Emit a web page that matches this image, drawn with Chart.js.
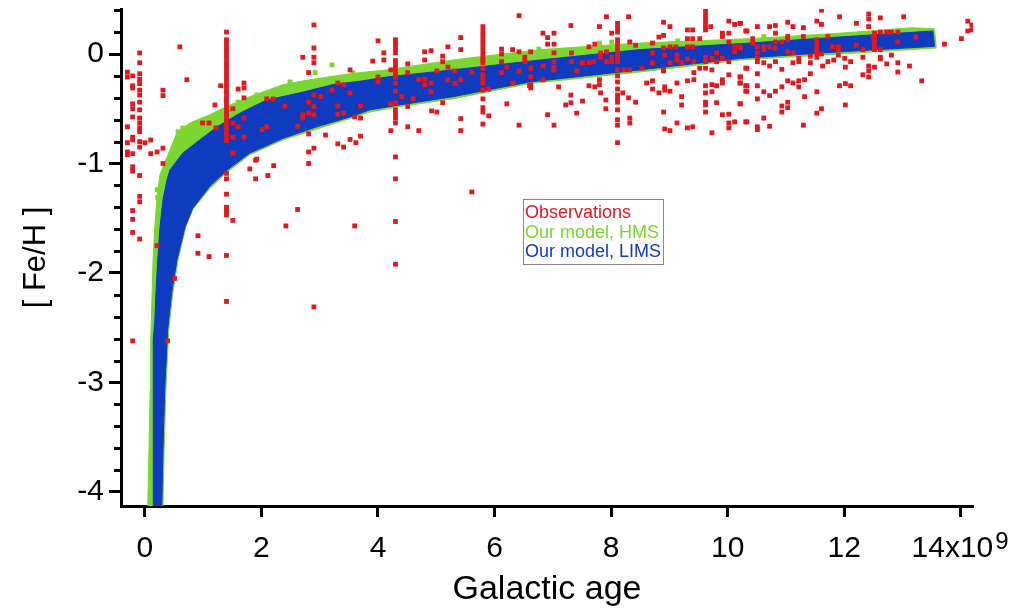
<!DOCTYPE html>
<html>
<head>
<meta charset="utf-8">
<script src="https://cdn.jsdelivr.net/npm/chart.js"></script>
<style>
  html, body { margin: 0; padding: 0; background: #fff; }
  #wrap { width: 1022px; height: 611px; }
</style>
</head>
<body>
<div id="wrap"><canvas id="fehChart"></canvas></div>
<script>
// galactic age in 10^9 yr, [Fe/H] in dex
const ageTicks = [0, 2, 4, 6, 8, 10, 12, 14];
const fehTicks = [-4, -3, -2, -1, 0];
const seriesNames = ['Observations', 'Our model, HMS', 'Our model, LIMS'];
const seriesColors = ['#e5161d', '#7cd630', '#0e3bbf'];

// model bands, edges
const limsUpper = [[0.14,-4.13],[0.14,-3.62],[0.14,-3.07],[0.15,-2.61],[0.17,-2.43],[0.19,-2.18],[0.22,-1.88],[0.26,-1.58],[0.31,-1.33],[0.38,-1.15],[0.43,-1.06],[0.65,-0.905],[0.94,-0.785],[1.24,-0.665],[1.63,-0.54],[2.09,-0.42],[2.66,-0.355],[3.22,-0.28],[3.74,-0.245],[4.15,-0.21],[5.28,-0.145],[6.78,-0.055],[8.49,0.04],[10.38,0.10],[11.92,0.155],[13.52,0.21]];
const limsLower = [[0.29,-4.13],[0.31,-3.62],[0.34,-3.07],[0.39,-2.52],[0.46,-2.18],[0.55,-1.88],[0.69,-1.58],[0.82,-1.41],[1.11,-1.21],[1.41,-1.06],[1.80,-0.905],[2.37,-0.77],[2.95,-0.665],[3.52,-0.575],[3.86,-0.51],[4.37,-0.465],[5.28,-0.39],[6.60,-0.255],[8.49,-0.145],[10.21,-0.04],[11.92,0.02],[13.55,0.07]];
const hmsUpper = [[0.05,-4.13],[0.07,-3.62],[0.09,-3.07],[0.10,-2.61],[0.12,-2.25],[0.14,-1.88],[0.17,-1.58],[0.21,-1.29],[0.26,-1.10],[0.38,-0.94],[0.55,-0.72],[0.77,-0.63],[1.11,-0.555],[1.46,-0.465],[1.80,-0.39],[2.37,-0.28],[2.83,-0.235],[3.52,-0.18],[4.15,-0.145],[5.28,-0.055],[6.78,0.04],[8.49,0.10],[10.38,0.14],[11.92,0.19],[13.17,0.24],[13.55,0.23]];
const hmsLower = [[0.31,-4.13],[0.33,-3.62],[0.36,-3.07],[0.41,-2.52],[0.48,-2.18],[0.57,-1.88],[0.70,-1.58],[0.82,-1.42],[1.11,-1.23],[1.41,-1.08],[1.80,-0.92],[2.37,-0.785],[2.95,-0.685],[3.52,-0.59],[3.86,-0.53],[4.37,-0.48],[5.28,-0.41],[6.60,-0.27],[8.49,-0.165],[10.21,-0.055],[11.92,0.0],[13.58,0.055]];
const hmsStray = [[0.65,-0.675],[0.57,-0.71],[0.21,-1.24],[0.22,-1.31],[1.60,-0.44],[1.92,-0.375],[2.49,-0.255],[2.92,-0.17],[3.21,-0.10],[3.57,-0.17],[6.76,0.045],[7.80,0.10],[8.01,0.11],[9.14,0.12],[10.62,0.16]];

// observations: stars stacked at one age
const obsColumns = [
  [1.40,0.20],[1.40,0.13],[1.40,0.10],[1.40,0.06],[1.40,0.03],[1.40,0.00],[1.40,-0.04],[1.40,-0.08],[1.40,-0.12],[1.40,-0.16],[1.40,-0.20],[1.40,-0.24],[1.40,-0.28],[1.40,-0.32],[1.40,-0.36],[1.40,-0.40],[1.40,-0.44],[1.40,-0.48],[1.40,-0.52],[1.40,-0.56],[1.40,-0.60],[1.40,-0.64],[1.40,-0.68],[1.40,-0.72],[1.40,-0.76],[1.40,-0.79],[1.40,-1.09],[1.40,-1.14],[1.40,-1.28],[1.40,-1.40],[1.40,-1.43],[1.40,-1.47],[1.40,-1.84],[1.40,-2.26],
  [4.30,0.13],[4.30,0.09],[4.30,0.05],[4.30,0.01],[4.30,-0.06],[4.30,-0.10],[4.30,-0.14],[4.30,-0.18],[4.30,-0.21],[4.30,-0.265],[4.30,-0.34],[4.30,-0.445],[4.30,-0.51],[4.30,-0.55],[4.30,-0.585],[4.30,-0.63],[4.30,-0.94],[4.30,-1.14],[4.30,-1.53],[4.30,-1.92],
  [5.80,0.25],[5.80,0.21],[5.80,0.17],[5.80,0.13],[5.80,0.09],[5.80,0.05],[5.80,0.01],[5.80,-0.03],[5.80,-0.055],[5.80,-0.08],[5.80,-0.13],[5.80,-0.19],[5.80,-0.23],[5.80,-0.265],[5.80,-0.33],[5.80,-0.41],[5.80,-0.49],[5.80,-0.53],[5.80,-0.64],
  [8.11,0.28],[8.11,0.24],[8.11,0.20],[8.11,0.13],[8.11,0.09],[8.11,0.05],[8.11,0.01],[8.11,-0.03],[8.11,-0.07],[8.11,-0.145],[8.11,-0.20],[8.11,-0.255],[8.11,-0.32],[8.11,-0.375],[8.11,-0.41],[8.11,-0.44],[8.11,-0.51],[8.11,-0.60],[8.11,-0.65],[8.11,-0.81],
  [9.62,0.41],[9.62,0.37],[9.62,0.33],[9.62,0.29],[9.62,0.25],[9.62,0.22],[9.62,-0.03],[9.62,-0.07],[9.62,-0.13],[9.62,-0.29],[9.62,-0.355],[9.62,-0.44],[9.62,-0.465],[9.62,-0.53],
  [11.53,0.30],[11.53,0.13],[11.53,0.09],[11.53,0.05],[11.53,0.01],[11.53,-0.03],[11.53,-0.345],[11.53,-0.54],
  [12.52,0.19],[12.52,0.15],[12.52,0.11],[12.52,0.07],[12.52,0.04],[12.52,-0.12]
];

// observations near zero age
const obsEarly = [
  [-0.30,-0.165],[-0.30,-0.21],[-0.30,-0.665],[-0.30,-0.81],[-0.30,-0.895],[-0.30,-0.92],
  [-0.21,-0.20],[-0.21,-0.29],[-0.21,-0.31],[-0.21,-0.455],[-0.21,-0.50],[-0.21,-0.575],[-0.21,-0.76],[-0.21,-0.785],[-0.21,-0.91],[-0.21,-1.03],[-0.21,-1.07],[-0.21,-1.43],[-0.21,-1.51],[-0.21,-1.63],[-0.21,-2.62],
  [-0.09,0.01],[-0.09,-0.08],[-0.09,-0.18],[-0.09,-0.23],[-0.09,-0.27],[-0.09,-0.33],[-0.09,-0.375],[-0.09,-0.44],[-0.09,-0.51],[-0.09,-0.585],[-0.09,-0.63],[-0.09,-0.675],[-0.09,-0.71],[-0.09,-0.80],[-0.09,-0.85],[-0.09,-1.11],[-0.09,-1.30],[-0.09,-1.35],[-0.09,-1.69],
  [0.00,-0.81],[0.10,-0.785],[0.10,-0.91],[0.21,-0.895],[0.21,-1.75],[0.31,-0.86],[0.31,-1.00],[0.31,-0.33],[0.31,-0.38],[0.39,-2.62],[0.51,-2.05],[0.60,0.065],[0.72,-0.235],[0.91,-1.66],[0.91,-1.82],[0.99,-0.63]
];

// observations 1 - 5.5 Gyr
const obsMiddle = [
  [1.10,-0.63],[1.10,-1.85],[1.20,-0.465],[1.22,-0.675],[1.30,-0.29],[1.51,-0.50],[1.51,-0.63],[1.51,-0.76],[1.51,-0.905],[1.51,-1.52],
  [1.60,-0.32],[1.60,-0.665],[1.70,-0.265],[1.70,-0.31],[1.70,-0.40],[1.70,-0.585],[1.70,-0.76],[1.80,-1.05],[1.90,-0.97],[1.90,-1.14],[1.92,-0.96],
  [2.01,-0.69],[2.09,-0.665],[2.09,-0.41],[2.11,-1.11],[2.20,-0.41],[2.21,-1.02],[2.40,-0.475],[2.42,-1.57],[2.62,-0.66],[2.62,-1.42],
  [2.71,-0.03],[2.71,-0.555],[2.71,-0.585],[2.81,-0.17],[2.81,-0.44],[2.81,-0.54],[2.81,-0.73],[2.81,-0.895],[2.81,-1.00],
  [2.90,0.265],[2.90,0.055],[2.90,-0.03],[2.90,-0.08],[2.90,-0.375],[2.90,-0.48],[2.90,-0.555],[2.90,-0.86],[2.90,-2.31],[3.02,-0.39],[3.10,-0.74],
  [3.60,-1.57],[5.61,-1.26],[6.42,0.35],[5.90,-0.32],[5.90,-0.565],
  [4.00,0.12],[4.10,0.01],[4.10,-0.055],[3.91,-0.065],[4.00,-0.21],[4.00,-0.255],[4.22,-0.145],[4.51,-0.09],[4.51,-0.17],[4.41,-0.39],[4.22,-0.455],[4.51,-0.48],[4.60,-0.41],[4.70,-0.70],[4.51,-0.665],[4.22,-0.70],
  [3.70,-0.475],[3.70,-0.585],[3.60,-0.575],[3.70,-0.75],[3.62,-0.81],[3.52,-0.78],[3.41,-0.85],[3.31,-0.82],[3.31,-0.475],[3.41,-0.54],[3.31,-0.55],[3.52,-0.355],[3.41,-0.28],[3.31,-0.265],[3.21,-0.33],[3.52,-0.145],
  [4.80,0.02],[4.91,0.03],[4.80,-0.055],[5.11,-0.02],[5.11,-0.07],[5.20,0.065],[5.20,-0.12],[5.01,-0.155],[4.80,-0.23],[4.91,-0.265],[4.80,-0.28],[4.70,-0.235],[4.91,-0.345],[5.20,-0.235],[5.32,-0.155],
  [5.42,0.15],[5.42,0.04],[5.42,-0.235],[5.32,-0.27],[5.61,-0.165],[4.92,-0.52],[5.01,-0.53],[5.11,-0.445],[5.42,-0.59],[5.42,-0.70]
];

// observations 6 - 10.5 Gyr
const obsLate = [
  [6.12,0.045],[6.12,0.0],[6.31,0.04],[6.42,0.02],[6.12,-0.07],[6.21,-0.12],[6.52,-0.03],[6.62,0.02],[6.52,-0.07],[6.62,-0.13],[6.42,-0.155],[6.12,-0.17],[6.62,-0.21],[6.31,-0.265],[6.62,-0.28],[6.62,-0.31],[6.21,-0.455],[6.42,-0.65],
  [7.92,0.34],[8.30,0.34],[7.31,0.26],[7.80,0.25],[8.01,0.19],[6.83,0.19],[6.91,0.15],[7.02,0.19],[6.91,0.09],[7.02,0.09],[7.02,0.01],[6.83,-0.11],[7.02,-0.12],[7.02,-0.145],[6.60,-0.29],[6.83,-0.235],[7.10,-0.30],[7.02,-0.07],
  [7.32,0.01],[7.32,-0.07],[7.41,-0.155],[7.51,-0.08],[7.62,0.065],[7.72,0.09],[7.62,-0.08],[7.70,-0.07],[7.82,0.01],[7.82,-0.03],[7.92,-0.07],[8.01,-0.07],[7.92,0.02],[8.01,-0.03],
  [8.32,0.11],[8.32,-0.145],[8.22,-0.145],[8.42,0.08],[8.53,-0.13],[8.61,-0.265],[8.71,0.10],[8.71,0.01],[8.71,-0.08],[8.82,0.155],[8.90,0.29],[8.90,0.17],[9.01,0.25],[9.01,0.065],[8.90,0.055],[8.92,-0.01],[9.01,-0.08],[8.90,-0.145],
  [9.11,0.065],[9.13,-0.01],[9.13,-0.055],[9.21,-0.08],[9.31,0.22],[9.40,0.22],[9.31,0.14],[9.40,0.14],[9.52,0.14],[9.31,0.065],[9.40,0.065],[9.31,-0.045],[9.42,-0.07],[9.52,-0.13],
  [9.71,0.25],[9.73,-0.04],[9.73,-0.145],[9.81,0.01],[9.81,-0.07],[9.91,0.19],[9.91,0.16],[10.02,0.30],[10.02,0.19],[10.12,0.27],[10.22,0.28],[10.33,0.21],[9.91,-0.04],[10.02,-0.07],[10.02,0.11],[10.12,0.065],[10.22,0.055],[10.12,0.02],[10.33,-0.13],
  [8.71,-0.245],[8.71,-0.32],[8.82,-0.355],[8.90,-0.155],[8.92,-0.30],[8.92,-0.33],[9.01,-0.34],[9.13,-0.265],[9.21,-0.39],[9.21,-0.465],[9.31,-0.245],[9.42,-0.17],[9.42,-0.235],
  [9.73,-0.28],[9.73,-0.345],[9.81,-0.29],[9.91,-0.235],[9.91,-0.265],[10.02,-0.19],[9.81,-0.445],[9.91,-0.555],[10.02,-0.55],[10.12,-0.62],[10.02,-0.63],[10.02,-0.675],
  [10.22,-0.21],[10.22,-0.265],[10.22,-0.455],[10.33,-0.29],[10.33,-0.34],[10.33,-0.62],[9.73,-0.72],[9.40,-0.665],[9.31,-0.675],[9.13,-0.63],[9.01,-0.70],[8.92,-0.685],[8.90,-0.53],
  [7.22,-0.465],[7.31,-0.375],[7.31,-0.445],[7.41,-0.54],[7.51,-0.43],[7.62,-0.29],[7.72,-0.30],[7.80,-0.235],[7.80,-0.28],[7.82,-0.355],[7.91,-0.42],[7.91,-0.50],[8.20,-0.355],[8.30,-0.40],[8.32,-0.585],[8.32,-0.63],[8.42,-0.44],[6.91,-0.555],[7.02,-0.65]
];

// observations beyond 10.2 Gyr
const obsOld = [
  [11.61,0.40],[11.92,0.34],[12.42,0.365],[12.42,0.32],[12.62,0.33],[13.02,0.34],[14.12,0.30],[14.19,0.265],[14.19,0.22],[14.12,0.21],[14.01,0.14],[13.72,0.09],[13.23,0.155],
  [10.21,0.28],[10.31,0.21],[10.51,0.25],[10.72,0.25],[10.82,0.26],[10.82,0.19],[11.03,0.29],[11.12,0.25],[11.30,0.24],[11.61,0.27],[11.30,0.16],[11.03,0.16],[11.03,0.13],[10.93,0.11],[10.82,0.11],
  [10.72,0.065],[10.62,0.065],[10.62,0.04],[10.51,0.065],[10.43,0.14],[10.43,0.10],[10.21,0.065],[10.82,0.055],[10.51,0.01],[10.51,-0.04],[10.51,-0.07],[10.62,-0.08],[10.72,-0.11],[10.82,-0.07],
  [11.03,0.02],[11.12,0.01],[11.22,-0.04],[11.22,-0.07],[11.12,-0.08],[11.42,-0.02],[11.42,-0.08],[11.61,0.0],[11.72,0.16],[11.72,-0.07],[11.80,0.065],[11.90,0.065],[11.90,0.04],[11.90,-0.01],[11.82,-0.055],
  [12.01,-0.04],[12.02,-0.12],[12.11,-0.07],[12.21,0.28],[12.21,0.08],[12.32,0.04],[12.32,-0.03],[12.42,0.25],[12.50,0.16],[12.62,0.20],[12.73,0.20],[12.81,0.20],[12.92,0.20],[12.92,0.11],
  [12.62,0.04],[12.62,-0.03],[12.62,-0.045],[12.81,-0.01],[12.73,-0.09],[12.42,-0.11],[12.42,-0.155],[12.42,-0.21],[12.32,-0.19],[12.92,-0.08],[12.92,-0.165],[13.12,-0.11],[13.33,-0.245],
  [10.31,-0.13],[10.21,-0.21],[10.21,-0.265],[10.31,-0.29],[10.31,-0.34],[10.51,-0.18],[10.51,-0.29],[10.51,-0.41],[10.62,-0.345],[10.72,-0.38],[10.82,-0.34],[10.93,-0.30],[10.93,-0.14],
  [11.03,-0.245],[11.12,-0.265],[11.22,-0.245],[11.22,-0.30],[11.32,-0.235],[11.32,-0.39],[11.42,-0.18],[11.03,-0.44],[10.93,-0.475],[10.93,-0.53],[11.03,-0.49],
  [10.21,-0.455],[10.31,-0.62],[10.51,-0.665],[10.51,-0.69],[10.62,-0.585],[10.72,-0.66],[11.30,-0.65],[11.61,-0.50],[11.92,-0.29],[12.02,-0.27],[12.11,-0.29],[12.02,-0.465],[11.63,-0.11]
];

const toXY = list => list.map(p => ({ x: p[0], y: p[1] }));
const bandPolygon = (upper, lower) => toXY(upper.concat(lower.slice().reverse()));
const observations = obsEarly.concat(obsColumns, obsMiddle, obsLate, obsOld);

const FONT = "'Liberation Sans', Arial, sans-serif";
const isWhole = v => Math.abs(v - Math.round(v)) < 1e-6;

const axisExtras = {
  id: 'axisExtras',
  afterDraw(chart) {
    const { ctx, chartArea } = chart;
    const x = chart.scales.x, y = chart.scales.y;
    ctx.save();
    // minor ticks on the [Fe/H] axis
    ctx.strokeStyle = '#000';
    ctx.lineWidth = 3;
    y.ticks.forEach(t => {
      if (isWhole(t.value)) return;
      const py = Math.round(y.getPixelForValue(t.value)) + 0.5;
      ctx.beginPath();
      ctx.moveTo(chartArea.left - 7, py);
      ctx.lineTo(chartArea.left, py);
      ctx.stroke();
    });
    // exponent on the last age label
    ctx.font = '30px ' + FONT;
    const full = ctx.measureText('14x10  ').width;
    const base = ctx.measureText('14x10').width;
    const left = x.getPixelForValue(14) - full / 2;
    ctx.font = '24px ' + FONT;
    ctx.fillStyle = '#000';
    ctx.textBaseline = 'top';
    ctx.fillText('9', left + base + 2, 530);
    // legend box
    const lx = chartArea.left + 402, ly = chartArea.top + 190;
    ctx.fillStyle = '#fff';
    ctx.fillRect(lx, ly, 140, 65);
    ctx.strokeStyle = '#8a8a8a';
    ctx.lineWidth = 1;
    ctx.strokeRect(lx + 0.5, ly + 0.5, 140, 65);
    ctx.font = '18px ' + FONT;
    ctx.textBaseline = 'alphabetic';
    seriesNames.forEach((name, i) => {
      ctx.fillStyle = seriesColors[i];
      ctx.fillText(name, lx + 2, ly + 19 + i * 19.5);
    });
    ctx.restore();
  }
};

new Chart(document.getElementById('fehChart'), {
  type: 'scatter',
  data: {
    datasets: [
      {
        label: seriesNames[0],
        data: toXY(observations),
        pointStyle: 'rect',
        pointRadius: 3.4,
        borderWidth: 0,
        backgroundColor: seriesColors[0],
        order: 0
      },
      {
        label: seriesNames[1] + ' stray',
        data: toXY(hmsStray),
        pointStyle: 'rect',
        pointRadius: 3.4,
        borderWidth: 0,
        backgroundColor: seriesColors[1],
        order: 1
      },
      {
        type: 'line',
        label: seriesNames[2],
        data: bandPolygon(limsUpper, limsLower),
        borderColor: seriesColors[2],
        backgroundColor: seriesColors[2],
        borderWidth: 1,
        pointRadius: 0,
        tension: 0,
        fill: 'shape',
        order: 2
      },
      {
        type: 'line',
        label: seriesNames[1],
        data: bandPolygon(hmsUpper, hmsLower),
        borderColor: seriesColors[1],
        backgroundColor: seriesColors[1],
        borderWidth: 1,
        pointRadius: 0,
        tension: 0,
        fill: 'shape',
        order: 3
      }
    ]
  },
  options: {
    responsive: true,
    maintainAspectRatio: false,
    animation: false,
    layout: { padding: { top: 9, right: 49, bottom: 0, left: 0 } },
    plugins: {
      legend: { display: false },
      tooltip: { enabled: false }
    },
    scales: {
      x: {
        type: 'linear',
        min: -0.41,
        max: 14.21,
        afterFit: s => { s.height = 105; s.paddingLeft = 0; s.paddingRight = 0; },
        afterBuildTicks: s => { s.ticks = ageTicks.map(v => ({ value: v })); },
        border: { color: '#000', width: 3 },
        grid: { drawOnChartArea: false, tickLength: 11, tickWidth: 3, tickColor: '#000' },
        ticks: {
          color: '#000',
          font: { family: FONT, size: 30 },
          padding: 14,
          maxRotation: 0,
          callback: v => (v === 14 ? '14x10  ' : String(v))
        },
        title: {
          display: true,
          text: 'Galactic age',
          color: '#000',
          font: { family: FONT, size: 34 },
          padding: { top: 0, bottom: 1 }
        }
      },
      y: {
        type: 'linear',
        min: -4.128,
        max: 0.411,
        afterFit: s => { s.width = 121; s.paddingTop = 0; s.paddingBottom = 0; },
        border: { color: '#000', width: 3 },
        grid: {
          drawOnChartArea: false,
          tickLength: 12,
          tickWidth: 3,
          tickColor: c => (isWhole(c.tick.value) ? '#000' : 'rgba(0,0,0,0)')
        },
        ticks: {
          stepSize: 0.2,
          includeBounds: false,
          autoSkip: false,
          color: '#000',
          font: { family: FONT, size: 30 },
          padding: 5,
          callback: v => (isWhole(v) && fehTicks.includes(Math.round(v)) ? String(Math.round(v)) : '')
        },
        title: {
          display: true,
          text: '[ Fe/H ]',
          color: '#000',
          font: { family: FONT, size: 31 },
          padding: { top: 18, bottom: 0 }
        }
      }
    }
  },
  plugins: [axisExtras]
});
</script>
</body>
</html>
